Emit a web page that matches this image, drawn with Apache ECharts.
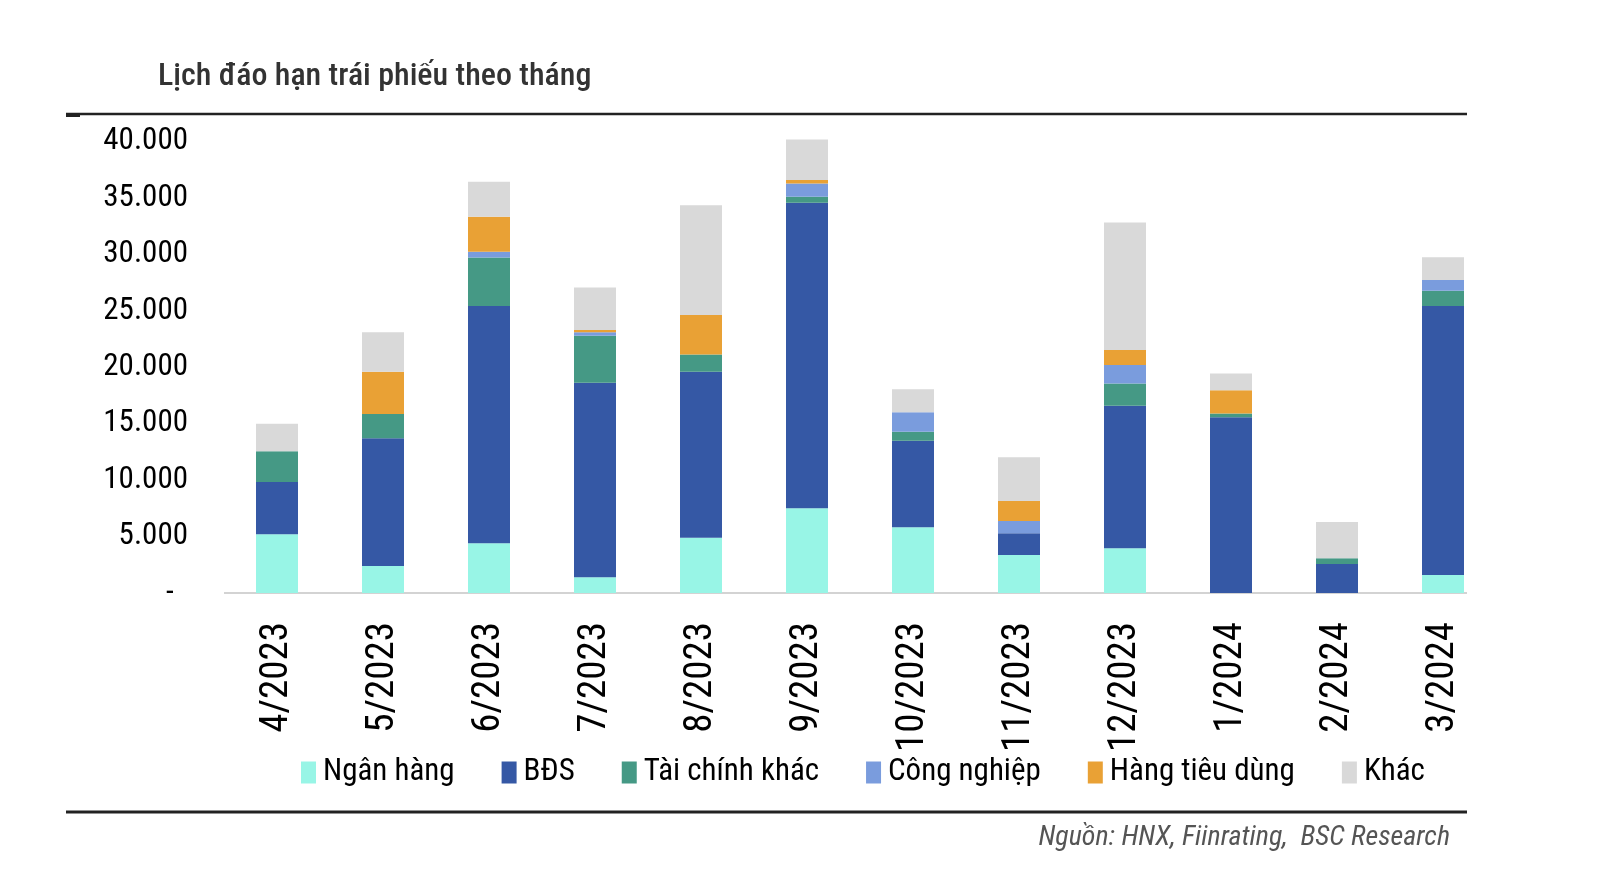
<!DOCTYPE html>
<html>
<head>
<meta charset="utf-8">
<script src="https://cdn.jsdelivr.net/npm/echarts@6/dist/echarts.min.js"></script>
<style>
html,body{margin:0;padding:0;background:#fff;}
#chart{width:1600px;height:888px;}
</style>
</head>
<body>
<div id="chart"></div>
<script>
const months = ['4/2023','5/2023','6/2023','7/2023','8/2023','9/2023','10/2023','11/2023','12/2023','1/2024','2/2024','3/2024'];
const nganHang    = [5200, 2390, 4400, 1390, 4900, 7500, 5820, 3370, 3960, 0, 0, 1590];
const bds         = [4630, 11310, 21020, 17240, 14700, 27070, 7670, 1920, 12630, 15560, 2570, 23830];
const taiChinh    = [2720, 2150, 4310, 4160, 1540, 530, 800, 0, 1980, 350, 500, 1360];
const congNghiep  = [0, 0, 500, 300, 0, 1190, 1720, 1090, 1620, 0, 0, 950];
const hangTieuDung= [0, 3750, 3100, 200, 3480, 290, 0, 1770, 1330, 2060, 0, 0];
const khac        = [2450, 3490, 3100, 3780, 9740, 3600, 2040, 3870, 11310, 1480, 3220, 2010];
const seriesNames = ['Ngân hàng','BĐS','Tài chính khác','Công nghiệp','Hàng tiêu dùng','Khác'];
const seriesColors = ['#98F5E6','#3558A5','#459985','#7A9CDD','#E9A135','#D9D9D9'];
const titleText = 'Lịch đáo hạn trái phiếu theo tháng';
const sourceText = 'Nguồn: HNX, Fiinrating,  BSC Research';

const FONT = '"Liberation Sans Narrow", "Roboto Condensed", "DejaVu Sans Condensed", sans-serif';
const allData = [nganHang, bds, taiChinh, congNghiep, hangTieuDung, khac];

const chart = echarts.init(document.getElementById('chart'));
chart.setOption({
  animation: false,
  backgroundColor: '#ffffff',
  textStyle: { fontFamily: FONT },
  title: {
    text: titleText,
    left: 153, top: 56,
    textStyle: { fontFamily: FONT, fontSize: 32, fontWeight: 500, color: '#333333' }
  },
  legend: {
    left: 296, top: 752,
    itemWidth: 15, itemHeight: 22, itemGap: 47,
    icon: 'rect',
    textStyle: { fontFamily: FONT, fontSize: 31, color: '#000000', padding: [0,0,0,2] },
    data: seriesNames
  },
  grid: { left: 224, right: 104, top: 141.5, bottom: 295, containLabel: false },
  xAxis: {
    type: 'category',
    data: months,
    axisLine: { show: false },
    axisTick: { show: false },
    axisLabel: { rotate: 90, margin: 29, fontFamily: FONT, fontSize: 39, color: '#000000', interval: 0 }
  },
  yAxis: {
    type: 'value',
    min: 0, max: 40000, interval: 5000,
    axisLine: { show: false },
    axisTick: { show: false },
    splitLine: { show: false },
    axisLabel: {
      margin: 36, fontFamily: FONT, fontSize: 31, color: '#000000',
      formatter: v => v === 0 ? '-  ' : v.toLocaleString('de-DE')
    }
  },
  series: seriesNames.map((n, i) => ({
    name: n, type: 'bar', stack: 'total', barWidth: 42, clip: false,
    itemStyle: { color: seriesColors[i] },
    data: allData[i]
  })),
  graphic: [
    { type: 'line', shape: { x1: 224, y1: 593, x2: 1467, y2: 593 }, style: { stroke: '#D3D3D3', lineWidth: 2 }, z: 0 },
    { type: 'line', shape: { x1: 66, y1: 114, x2: 1467, y2: 114 }, style: { stroke: '#222222', lineWidth: 2.5 } },
    { type: 'rect', shape: { x: 66, y: 113, width: 14, height: 4 }, style: { fill: '#222222' } },
    { type: 'line', shape: { x1: 66, y1: 812, x2: 1467, y2: 812 }, style: { stroke: '#222222', lineWidth: 3 } },
    { type: 'text', right: 150, top: 824, style: { text: sourceText, font: 'italic 28px ' + FONT, fill: '#555555' } }
  ]
});
</script>
</body>
</html>
